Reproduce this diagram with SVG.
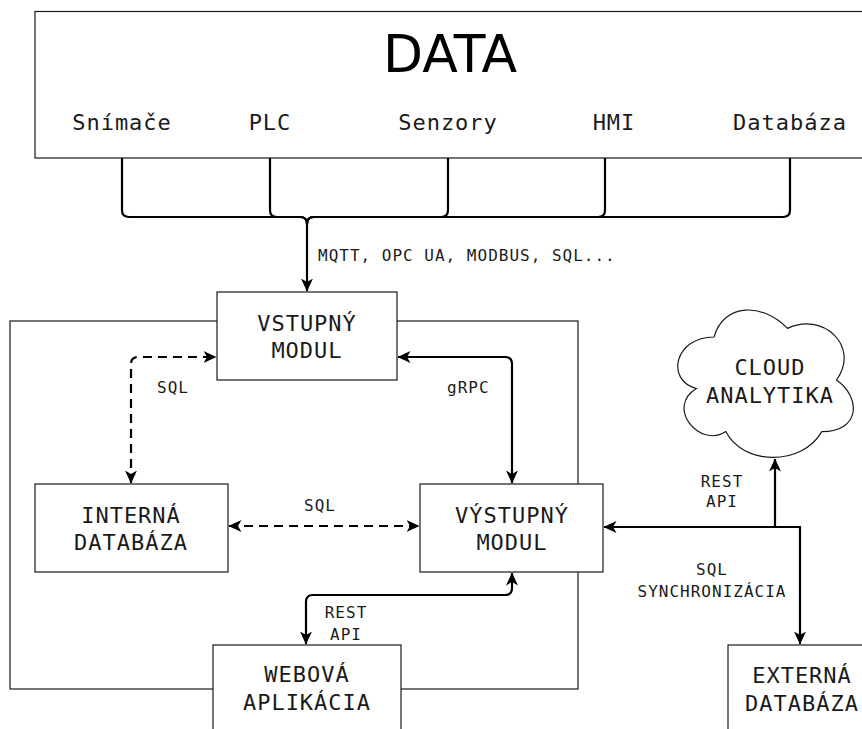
<svg xmlns="http://www.w3.org/2000/svg" width="862" height="729" viewBox="0 0 862 729">
  <style>
    .box { fill: #ffffff; stroke: #1a1a1a; stroke-width: 1.2; }
    .frame { fill: none; stroke: #1a1a1a; stroke-width: 1.2; }
    .node { font-family: "DejaVu Sans Mono", "Liberation Mono", monospace; font-size: 22px; letter-spacing: 1px; fill: #1a1a1a; text-anchor: middle; }
    .lbl { font-family: "DejaVu Sans Mono", "Liberation Mono", monospace; font-size: 16px; letter-spacing: 1px; fill: #1a1a1a; }
    .mid { text-anchor: middle; }
    .title { font-family: "DejaVu Sans", "Liberation Sans", sans-serif; font-size: 52px; fill: #000; text-anchor: middle; }
    .edge { fill: none; stroke: #000; stroke-width: 2.2; }
    .dash { stroke-dasharray: 9 6; }
  </style>
  <defs>
    <marker id="arrow" viewBox="0 0 13 12" refX="12.5" refY="6" markerWidth="13" markerHeight="12" markerUnits="userSpaceOnUse" orient="auto-start-reverse">
      <path d="M0,0 L13,6 L0,12 L3.5,6 Z" fill="#000"/>
    </marker>
  </defs>

  <rect width="862" height="729" fill="#ffffff"/>

  <!-- application boundary -->
  <rect class="frame" x="10" y="321" width="568" height="368"/>

  <!-- data sources -->
  <g id="data">
    <rect class="box" x="35" y="11.5" width="840" height="146.5"/>
    <text class="title" x="450" y="72">DATA</text>
    <text class="node" x="122" y="130">Snímače</text>
    <text class="node" x="270" y="130">PLC</text>
    <text class="node" x="448" y="130">Senzory</text>
    <text class="node" x="614" y="130">HMI</text>
    <text class="node" x="790" y="130">Databáza</text>
  </g>

  <g id="connectors">
    <!-- source bus -->
    <path class="edge" d="M122,158 V210 Q122,217 129,217 H300 Q307,217 307,224"/>
    <path class="edge" d="M270,158 V210 Q270,217 277,217 H300 Q307,217 307,224"/>
    <path class="edge" d="M448,158 V210 Q448,217 441,217 H314 Q307,217 307,224"/>
    <path class="edge" d="M605,158 V210 Q605,217 598,217 H314 Q307,217 307,224"/>
    <path class="edge" d="M790,158 V210 Q790,217 783,217 H314 Q307,217 307,224"/>
    <path class="edge" d="M307,224 V291" marker-end="url(#arrow)"/>
    <text class="lbl" x="318" y="261">MQTT, OPC UA, MODBUS, SQL...</text>

    <!-- input module <-> internal database -->
    <path class="edge dash" d="M131,483 V364 Q131,357 138,357 H216" marker-start="url(#arrow)" marker-end="url(#arrow)"/>
    <text class="lbl" x="157" y="393">SQL</text>

    <!-- input module <-> output module -->
    <path class="edge" d="M398,357 H505 Q512,357 512,364 V483" marker-start="url(#arrow)" marker-end="url(#arrow)"/>
    <text class="lbl" x="447" y="393">gRPC</text>

    <!-- internal database <-> output module -->
    <path class="edge dash" d="M229,526 H419" marker-start="url(#arrow)" marker-end="url(#arrow)"/>
    <text class="lbl" x="304" y="511">SQL</text>

    <!-- output module <-> web application -->
    <path class="edge" d="M512,573 V588 Q512,595 505,595 H313 Q306,595 306,602 V644" marker-start="url(#arrow)" marker-end="url(#arrow)"/>
    <text class="lbl mid" x="346" y="618">REST</text>
    <text class="lbl mid" x="346" y="640">API</text>

    <!-- output module <-> cloud / external database -->
    <path class="edge" d="M604,527 H775" marker-start="url(#arrow)"/>
    <path class="edge" d="M775,527 V459" marker-end="url(#arrow)"/>
    <path class="edge" d="M775,527 H800 V644" marker-end="url(#arrow)"/>
    <text class="lbl mid" x="722" y="487">REST</text>
    <text class="lbl mid" x="722" y="507">API</text>
    <text class="lbl mid" x="712" y="575">SQL</text>
    <text class="lbl mid" x="712" y="597">SYNCHRONIZÁCIA</text>
  </g>

  <g id="vstupny-modul">
    <rect class="box" x="217" y="292" width="180" height="88"/>
    <text class="node" x="307" y="331">VSTUPNÝ</text>
    <text class="node" x="307" y="358">MODUL</text>
  </g>

  <g id="interna-databaza">
    <rect class="box" x="35" y="484" width="193" height="88"/>
    <text class="node" x="131" y="523">INTERNÁ</text>
    <text class="node" x="131" y="550">DATABÁZA</text>
  </g>

  <g id="vystupny-modul">
    <rect class="box" x="420" y="484" width="183" height="88"/>
    <text class="node" x="512" y="523">VÝSTUPNÝ</text>
    <text class="node" x="512" y="550">MODUL</text>
  </g>

  <g id="webova-aplikacia">
    <rect class="box" x="213" y="645" width="188" height="100"/>
    <text class="node" x="307" y="682">WEBOVÁ</text>
    <text class="node" x="307" y="710">APLIKÁCIA</text>
  </g>

  <g id="externa-databaza">
    <rect class="box" x="728" y="645" width="150" height="100"/>
    <text class="node" x="802" y="683">EXTERNÁ</text>
    <text class="node" x="802" y="711">DATABÁZA</text>
  </g>

  <g id="cloud-analytika">
    <path class="box" d="M714,337 C674.8,337 665,380 696.4,388.6 C665,407.5 700.3,448.8 725.8,431.6 C743.4,466 802.2,466 821.8,431.6 C861,431.6 861,397.2 836.5,380 C861,345.6 821.8,311.2 787.5,328.4 C763,302.6 723.8,302.6 714,337 Z"/>
    <text class="node" x="770" y="375">CLOUD</text>
    <text class="node" x="770" y="403">ANALYTIKA</text>
  </g>
</svg>
